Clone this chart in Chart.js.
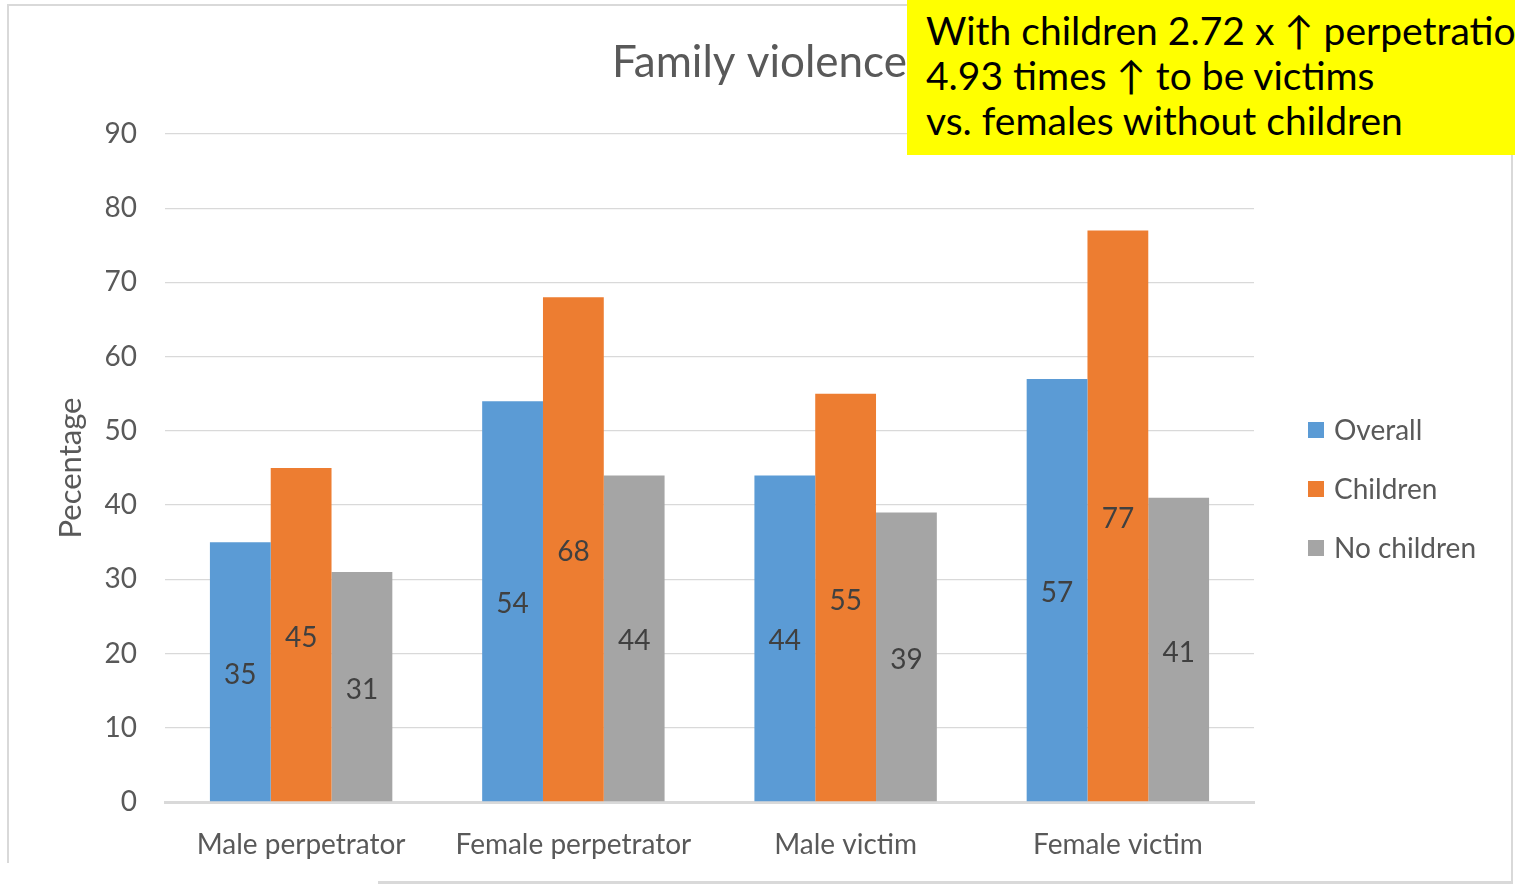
<!DOCTYPE html>
<html>
<head>
<meta charset="utf-8">
<title>Family violence</title>
<script src="https://cdn.jsdelivr.net/npm/chart.js@4.4.1/dist/chart.umd.min.js"></script>
<style>
  body { margin: 0; width: 1515px; height: 886px; overflow: hidden; position: relative; background: #fff; font-family: Lato, "Noto Sans", sans-serif; }
  #frame { position: absolute; left: 7px; top: 4px; width: 1510px; height: 857px; border-left: 2px solid #d9d9d9; border-top: 2px solid #d9d9d9; }
  #frame2 { position: absolute; left: 378px; top: 150px; width: 1133px; height: 731px; border-right: 2px solid #d9d9d9; border-bottom: 3px solid #d9d9d9; }
  #chart { position: absolute; left: 0; top: 0; }
  #note { position: absolute; left: 907px; top: 0; width: 608px; height: 155px; background: #ffff00; color: #000;
          font-family: Lato, "DejaVu Sans", sans-serif; font-size: 39px; line-height: 45px; padding: 8px 0 0 19px; box-sizing: border-box; white-space: nowrap; overflow: hidden; }
</style>
</head>
<body>
<div id="frame"></div>
<div id="frame2"></div>
<canvas id="chart" width="1515" height="886"></canvas>
<div id="note">With children 2.72 x &#8593; perpetration<br>4.93 times &#8593; to be victims<br>vs. females without children</div>
<script>
const categories = ['Male perpetrator', 'Female perpetrator', 'Male victim', 'Female victim'];
const overall = [35, 54, 44, 57];
const withChildren = [45, 68, 55, 77];
const noChildren = [31, 44, 39, 41];
const seriesNames = ['Overall', 'Children', 'No children'];
const seriesColors = ['#5b9bd5', '#ed7d31', '#a5a5a5'];
const chartTitle = 'Family violence';
const axisTitle = 'Pecentage';

const textGrey = '#595959';
const fontFamily = 'Lato, "Noto Sans", sans-serif';

// value in the middle of each bar
const barValues = {
  id: 'barValues',
  afterDatasetsDraw(chart) {
    const ctx = chart.ctx;
    ctx.save();
    ctx.font = '28px ' + fontFamily;
    ctx.fillStyle = '#404040';
    ctx.textAlign = 'center';
    ctx.textBaseline = 'middle';
    chart.data.datasets.forEach((ds, i) => {
      chart.getDatasetMeta(i).data.forEach((bar, j) => {
        ctx.fillText(ds.data[j], bar.x, (bar.y + bar.base) / 2 + 3);
      });
    });
    ctx.restore();
  }
};

// title on the left part, legend to the right of the plot
const extras = {
  id: 'extras',
  afterDraw(chart) {
    const ctx = chart.ctx;
    const area = chart.chartArea;
    ctx.save();
    ctx.font = '44px ' + fontFamily;
    ctx.fillStyle = textGrey;
    ctx.textBaseline = 'middle';
    ctx.fillText(chartTitle, 612, 63);

    ctx.font = '28px ' + fontFamily;
    const step = 59;
    const top = (area.top + area.bottom) / 2 + 21 - step;
    chart.data.datasets.forEach((ds, i) => {
      const y = top + i * step;
      ctx.fillStyle = ds.backgroundColor;
      ctx.fillRect(area.right + 54, y - 8, 16, 16);
      ctx.fillStyle = textGrey;
      ctx.fillText(ds.label, area.right + 80, y + 1);
    });
    ctx.restore();
  }
};

new Chart(document.getElementById('chart'), {
  type: 'bar',
  data: {
    labels: categories,
    datasets: [overall, withChildren, noChildren].map((values, i) => ({
      label: seriesNames[i],
      data: values,
      backgroundColor: seriesColors[i],
      categoryPercentage: 0.67,
      barPercentage: 1
    }))
  },
  options: {
    responsive: false,
    animation: false,
    layout: { padding: { top: 134, right: 261, bottom: 0, left: 0 } },
    plugins: {
      legend: { display: false },
      title: { display: false },
      tooltip: { enabled: false }
    },
    scales: {
      x: {
        grid: { display: false },
        border: { display: true, color: '#d9d9d9', width: 3 },
        ticks: { color: textGrey, font: { family: fontFamily, size: 28 }, padding: 18 },
        afterFit: s => { s.height = 84; }
      },
      y: {
        min: 0,
        max: 90,
        ticks: { stepSize: 10, color: textGrey, font: { family: fontFamily, size: 28 }, padding: 28 },
        grid: { color: '#d9d9d9', lineWidth: 1.3, drawTicks: false },
        border: { display: false },
        title: { display: true, text: axisTitle, color: textGrey, font: { family: fontFamily, size: 31 }, padding: { top: 52, bottom: 0 } },
        afterFit: s => { s.width = 165; }
      }
    }
  },
  plugins: [barValues, extras]
});
</script>
</body>
</html>
